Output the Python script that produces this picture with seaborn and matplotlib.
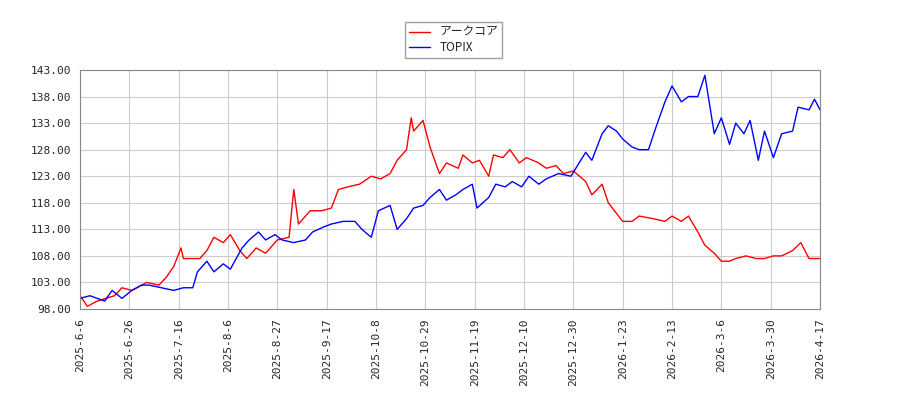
import numpy as np
import pandas as pd
import matplotlib
matplotlib.use('Agg')
import matplotlib.pyplot as plt
import seaborn as sns

red_dates = ['2025-06-06','2025-06-09','2025-06-13','2025-06-20','2025-06-23','2025-06-27','2025-07-03','2025-07-08',
    '2025-07-11','2025-07-14','2025-07-17','2025-07-18','2025-07-25','2025-07-28','2025-07-31','2025-08-04','2025-08-07',
    '2025-08-11','2025-08-14','2025-08-18','2025-08-22','2025-08-27','2025-09-01','2025-09-03','2025-09-05','2025-09-10',
    '2025-09-15','2025-09-19','2025-09-22','2025-09-26','2025-10-01','2025-10-06','2025-10-10','2025-10-14','2025-10-17',
    '2025-10-21','2025-10-23','2025-10-24','2025-10-28','2025-10-31','2025-11-04','2025-11-07','2025-11-12','2025-11-14',
    '2025-11-18','2025-11-21','2025-11-25','2025-11-27','2025-12-01','2025-12-04','2025-12-08','2025-12-11','2025-12-16',
    '2025-12-19','2025-12-23','2025-12-26','2025-12-30','2026-01-05','2026-01-08','2026-01-13','2026-01-16','2026-01-20',
    '2026-01-23','2026-01-27','2026-01-30','2026-02-05','2026-02-10','2026-02-13','2026-02-17','2026-02-20','2026-02-24',
    '2026-02-27','2026-03-03','2026-03-06','2026-03-10','2026-03-13','2026-03-18','2026-03-23','2026-03-27','2026-03-31',
    '2026-04-03','2026-04-07','2026-04-10','2026-04-13','2026-04-17']
red_values = [100.5,98.5,99.5,100.5,102,101.5,103,102.5,104,106,109.5,107.5,107.5,109,111.5,110.5,112,109,107.5,109.5,
    108.5,111,111.5,120.5,114,116.5,116.5,117,120.5,121,121.5,123,122.5,123.5,126,128,134,131.5,133.5,128.5,123.5,125.5,
    124.5,127,125.5,126,123,127,126.5,128,125.5,126.5,125.5,124.5,125,123.5,124,122,119.5,121.5,118,116,114.5,114.5,
    115.5,115,114.5,115.5,114.5,115.5,112.5,110,108.5,107,107,107.5,108,107.5,107.5,108,108,109,110.5,107.5,107.5]

blue_dates = ['2025-06-06','2025-06-10','2025-06-16','2025-06-19','2025-06-23','2025-06-27','2025-07-01','2025-07-04',
    '2025-07-09','2025-07-14','2025-07-18','2025-07-22','2025-07-24','2025-07-28','2025-07-31','2025-08-04','2025-08-07',
    '2025-08-12','2025-08-15','2025-08-19','2025-08-22','2025-08-26','2025-08-29','2025-09-03','2025-09-08','2025-09-11',
    '2025-09-16','2025-09-19','2025-09-24','2025-09-29','2025-10-02','2025-10-06','2025-10-09','2025-10-14','2025-10-17',
    '2025-10-21','2025-10-24','2025-10-28','2025-10-31','2025-11-04','2025-11-07','2025-11-11','2025-11-14','2025-11-18',
    '2025-11-20','2025-11-25','2025-11-28','2025-12-02','2025-12-05','2025-12-09','2025-12-12','2025-12-16','2025-12-19',
    '2025-12-24','2025-12-29','2026-01-05','2026-01-08','2026-01-13','2026-01-16','2026-01-20','2026-01-23','2026-01-27',
    '2026-01-30','2026-02-03','2026-02-06','2026-02-10','2026-02-13','2026-02-17','2026-02-20','2026-02-24','2026-02-27',
    '2026-03-03','2026-03-06','2026-03-10','2026-03-13','2026-03-17','2026-03-20','2026-03-24','2026-03-27','2026-03-31',
    '2026-04-03','2026-04-07','2026-04-09','2026-04-13','2026-04-15','2026-04-17']
blue_values = [100,100.5,99.5,101.5,100,101.5,102.5,102.5,102,101.5,102,102,105,107,105,106.5,105.5,109.5,111,112.5,111,
    112,111,110.5,111,112.5,113.5,114,114.5,114.5,113,111.5,116.5,117.5,113,115,117,117.5,119,120.5,118.5,119.5,120.5,
    121.5,117,119,121.5,121,122,121,123,121.5,122.5,123.5,123,127.5,126,131,132.5,131.5,130,128.5,128,128,132,137,140,
    137,138,138,142,131,134,129,133,131,133.5,126,131.5,126.5,131,131.5,136,135.5,137.5,135.5]

tick_labels = ['2025-6-6','2025-6-26','2025-7-16','2025-8-6','2025-8-27','2025-9-17','2025-10-8','2025-10-29',
    '2025-11-19','2025-12-10','2025-12-30','2026-1-23','2026-2-13','2026-3-6','2026-3-30','2026-4-17']
y_ticks = [98, 103, 108, 113, 118, 123, 128, 133, 138, 143]

sns.set_style('white')
plt.rcParams['font.family'] = ['Noto Sans CJK JP', 'DejaVu Sans']

# trading-day axis: ticks are evenly spaced, map dates onto tick index
tick_ord = pd.to_datetime(tick_labels).map(pd.Timestamp.toordinal).to_numpy()
tick_pos = np.arange(len(tick_labels))

def to_pos(dates):
    d = pd.to_datetime(dates).map(pd.Timestamp.toordinal).to_numpy()
    return np.interp(d, tick_ord, tick_pos)

df_red = pd.DataFrame({'x': to_pos(red_dates), 'value': red_values})
df_blue = pd.DataFrame({'x': to_pos(blue_dates), 'value': blue_values})

fig = plt.figure(figsize=(9, 4), dpi=100)
ax = fig.add_axes([80/900, 1-309/400, 740/900, 239/400])
sns.lineplot(data=df_red, x='x', y='value', color='red', lw=1, ax=ax, label='アークコア')
sns.lineplot(data=df_blue, x='x', y='value', color='blue', lw=1, ax=ax, label='TOPIX')

ax.set_xlim(0, len(tick_labels) - 1)
ax.set_ylim(98, 143)
ax.set_xticks(tick_pos)
ax.set_xticklabels(tick_labels, rotation=90, family='monospace', fontsize=8)
ax.set_yticks(y_ticks)
ax.set_yticklabels([f'{v:.2f}' for v in y_ticks], family='monospace', fontsize=8)
ax.grid(True, color='#cccccc', lw=0.8)
ax.set_xlabel('')
ax.set_ylabel('')
for s in ax.spines.values():
    s.set_color('#888888')
ax.tick_params(length=3)
ax.legend(loc='upper center', bbox_to_anchor=(0.505, 1.225), fontsize=8.5, fancybox=False,
          edgecolor='#888888', borderpad=0.3, labelspacing=0.2, handlelength=1.8)

fig.savefig('out.png')
